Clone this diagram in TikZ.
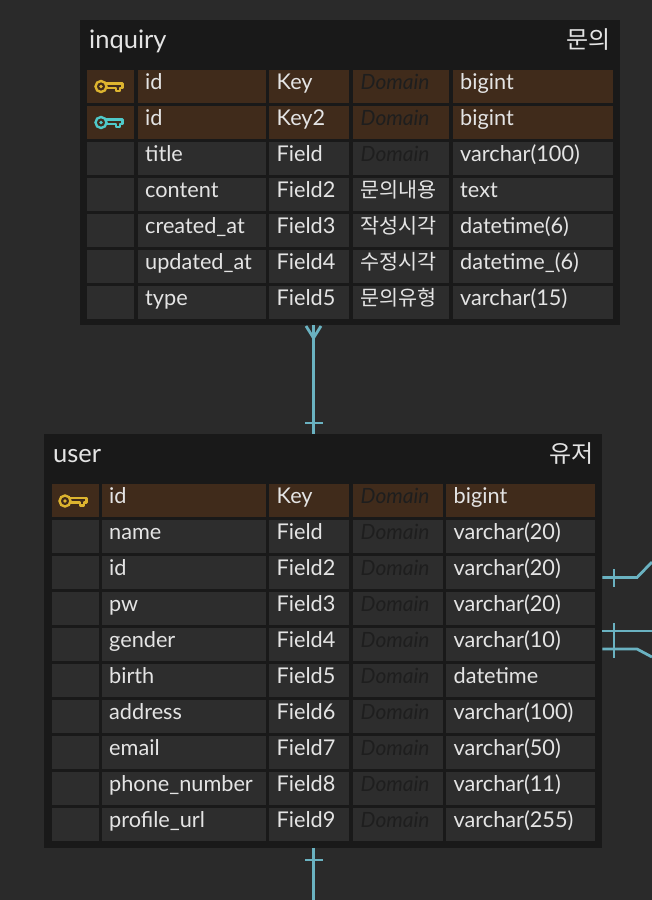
\documentclass[tikz,border=0pt]{standalone}
\usepackage{fontspec}
\setmainfont{Lato}
\newfontfamily\krfont{Noto Sans CJK KR}
\definecolor{canvasbg}{HTML}{2A2A2A}
\definecolor{tablebg}{HTML}{191919}
\definecolor{cellbg}{HTML}{2D2D2D}
\definecolor{keybg}{HTML}{402B1B}
\definecolor{textfg}{HTML}{E4E4E4}
\definecolor{domainfg}{HTML}{1E1E1E}
\definecolor{linecol}{HTML}{6AB2C1}
\definecolor{keygold}{HTML}{DDB42F}
\definecolor{keyteal}{HTML}{4FC9C9}
\newcommand{\dom}{\textcolor{domainfg}{\fontsize{21}{25}\selectfont\itshape Domain}}
\newcommand{\kr}[1]{{\krfont\fontsize{20.7}{25}\selectfont #1}}
\tikzset{
    cell/.style={anchor=north west,inner sep=0pt,minimum height=32.5pt,text width=#1,
        text height=19.5pt,text depth=13pt,align=left,text=textfg,
        font=\fontsize{21.7}{26}\selectfont,execute at begin node={\hspace*{7.5pt}}},
    tablebox/.style={anchor=north west,inner sep=0pt,fill=tablebg},
    title/.style={anchor=base,inner sep=0pt,text=textfg,font=\fontsize{25.5}{30}\selectfont},
    rel/.style={draw=linecol,line width=2.8pt},
    keyicon/.pic={
        \draw[pic actions,line width=2.4pt] (0,0) circle (5.5);
        \draw[pic actions,line width=1.5pt] (0,0) circle (0.7);
        \draw[pic actions,line width=2.4pt,line join=round] (5.3,-3) -- (21.5,-3) -- (21.5,1.5) -- (19,1.5)
            -- (19,4.5) -- (15,4.5) -- (15,1.5) -- (5.3,1.5);
    }
}
\begin{document}
\begin{tikzpicture}[x=1pt,y=-1pt]
    \useasboundingbox[fill=canvasbg] (0,0) rectangle (652,900);
    % inquiry
    \node[tablebox,minimum width=540pt,minimum height=305pt] (inquiry) at (80,20) {};
    \node[title,anchor=base west] (inquiryname) at (89,48) {inquiry};
    \node[title,anchor=base east] (inquirykr) at (611,48) {{\krfont\fontsize{24}{30}\selectfont 문의}};
    \foreach \rowfill/\colname/\collogic/\coldom/\coltype [count=\i from 0] in {
        keybg/id/Key/\dom/bigint,
        keybg/id/Key2/\dom/bigint,
        cellbg/title/Field/\dom/varchar(100),
        cellbg/content/Field2/\kr{문의내용}/text,
        cellbg/created\_at/Field3/\kr{작성시각}/datetime(6),
        cellbg/updated\_at/Field4/\kr{수정시각}/datetime\_(6),
        cellbg/type/Field5/\kr{문의유형}/varchar(15)} {
        \pgfmathsetmacro{\rowy}{70+36*\i}
        \node[cell=47pt,fill=\rowfill] (inq\i key) at (87,\rowy) {};
        \node[cell=128pt,fill=\rowfill] (inq\i name) at (137.5,\rowy) {\colname};
        \node[cell=80pt,fill=\rowfill] (inq\i logic) at (269,\rowy) {\collogic};
        \node[cell=96pt,fill=\rowfill] (inq\i dom) at (353,\rowy) {\coldom};
        \node[cell=160pt,fill=\rowfill] (inq\i type) at (452.5,\rowy) {\coltype};
    }
    \pic[draw=keygold] (inqkeya) at (101,86.5) {keyicon};
    \pic[draw=keyteal] (inqkeyb) at (101,122.5) {keyicon};
    % user
    \node[tablebox,minimum width=558pt,minimum height=414pt] (user) at (44,433.5) {};
    \node[title,anchor=base west] (username) at (53,462) {user};
    \node[title,anchor=base east] (userkr) at (594,462) {{\krfont\fontsize{24}{30}\selectfont 유저}};
    \foreach \rowfill/\colname/\collogic/\coltype [count=\i from 0] in {
        keybg/id/Key/bigint,
        cellbg/name/Field/varchar(20),
        cellbg/id/Field2/varchar(20),
        cellbg/pw/Field3/varchar(20),
        cellbg/gender/Field4/varchar(10),
        cellbg/birth/Field5/datetime,
        cellbg/address/Field6/varchar(100),
        cellbg/email/Field7/varchar(50),
        cellbg/phone\_number/Field8/varchar(11),
        cellbg/profile\_url/Field9/varchar(255)} {
        \pgfmathsetmacro{\rowy}{484+36*\i}
        \node[cell=47pt,fill=\rowfill] (usr\i key) at (51.5,\rowy) {};
        \node[cell=164pt,fill=\rowfill] (usr\i name) at (101.5,\rowy) {\colname};
        \node[cell=80pt,fill=\rowfill] (usr\i logic) at (269,\rowy) {\collogic};
        \node[cell=90pt,fill=\rowfill] (usr\i dom) at (353,\rowy) {\dom};
        \node[cell=149pt,fill=\rowfill] (usr\i type) at (446,\rowy) {\coltype};
    }
    \pic[draw=keygold] (usrkey) at (65,501) {keyicon};
    % connectors
    \coordinate (relx) at (313.5,0);
    \coordinate (bottomend) at (313.5,900);
    \coordinate (rightup) at (652,562);
    \coordinate (rightmid) at (652,631);
    \coordinate (rightdown) at (652,657);
    \draw[rel] (inquiry.south -| relx) -- (user.north -| relx);
    \draw[rel] (306,326) -- (313.5,338) -- (321,326);
    \draw[rel] (305,423) -- (323,423);
    \draw[rel] (user.south -| relx) -- (bottomend);
    \draw[rel] (305,860) -- (323,860);
    \draw[rel] (user.east |- 0,577.5) -- (637,577.5) -- (rightup);
    \draw[rel] (user.east |- 0,631) -- (rightmid);
    \draw[rel] (user.east |- 0,649) -- (637,649) -- (rightdown);
    \draw[rel] (614,569) -- (614,587);
    \draw[rel] (614,623) -- (614,658);
\end{tikzpicture}
\end{document}
